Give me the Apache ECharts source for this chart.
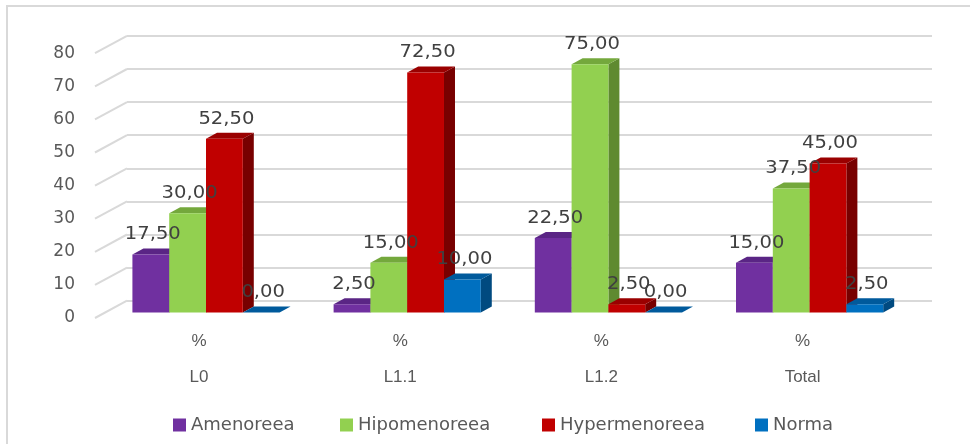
<!DOCTYPE html>
<html>
<head>
<meta charset="utf-8">
<script src="https://cdn.jsdelivr.net/npm/echarts@6/dist/echarts.min.js"></script>
<style>
  html, body { margin: 0; padding: 0; background: #ffffff; }
  #chart { width: 970px; height: 444px; }
</style>
</head>
<body>
<div id="chart"></div>
<script>
// Categories and series values (percent)
const categories = ['L0', 'L1.1', 'L1.2', 'Total'];
const seriesNames = ['Amenoreea', 'Hipomenoreea', 'Hypermenoreea', 'Norma'];
const amenoreea = [17.5, 2.5, 22.5, 15];
const hipomenoreea = [30, 15, 75, 37.5];
const hypermenoreea = [52.5, 72.5, 2.5, 45];
const norma = [0, 10, 0, 2.5];
const valueTicks = [0, 10, 20, 30, 40, 50, 60, 70, 80];

const seriesValues = [amenoreea, hipomenoreea, hypermenoreea, norma];

// face colours: front, top, side
const palette = [
  { front: '#7030A0', top: '#5A2585', side: '#4E1F74' },
  { front: '#92D050', top: '#74A83C', side: '#5F8A30' },
  { front: '#C00000', top: '#9A0000', side: '#780000' },
  { front: '#0070C0', top: '#005A9C', side: '#004A80' }
];

const CLUSTER = 0.7315;   // share of a category slot taken by the four columns
const DEPTH_X = 11;       // column depth, horizontal offset
const DEPTH_Y = 6;        // column depth, vertical offset
const WALL_DY = 17.3;     // side-wall depth, vertical offset

const fmt = v => v.toFixed(2).replace('.', ',');

function columnRenderer(sIdx) {
  const c = palette[sIdx];
  return function (params, api) {
    const cat = api.value(0);
    const v = api.value(1);
    const base = api.coord([cat, 0]);
    const topPt = api.coord([cat, v]);
    const catW = api.size([1, 0])[0];
    const bw = catW * CLUSTER / 4;
    const x0 = base[0] - catW * CLUSTER / 2 + sIdx * bw;
    const x1 = x0 + bw;
    const yb = base[1];
    const yt = topPt[1];
    const z = sIdx * 4;
    return {
      type: 'group',
      children: [
        {
          type: 'polygon',
          z2: z,
          shape: { points: [[x1, yt], [x1 + DEPTH_X, yt - DEPTH_Y], [x1 + DEPTH_X, yb - DEPTH_Y], [x1, yb]] },
          style: { fill: c.side }
        },
        {
          type: 'polygon',
          z2: z + 1,
          shape: { points: [[x0, yt], [x1, yt], [x1 + DEPTH_X, yt - DEPTH_Y], [x0 + DEPTH_X, yt - DEPTH_Y]] },
          style: { fill: c.top }
        },
        {
          type: 'rect',
          z2: z + 2,
          shape: { x: x0, y: yt, width: bw, height: yb - yt },
          style: { fill: c.front }
        },
        {
          type: 'text',
          z2: 100,
          x: (x0 + x1) / 2 + 2,
          y: yt - 19.5,
          scaleX: 1.15,
          style: {
            text: fmt(v),
            font: '17px "DejaVu Sans"',
            fill: '#404040',
            align: 'center',
            verticalAlign: 'middle'
          }
        }
      ]
    };
  };
}

const barSeries = seriesNames.map((name, i) => ({
  name: name,
  type: 'custom',
  xAxisIndex: 1,
  yAxisIndex: 1,
  itemStyle: { color: palette[i].front },
  encode: { x: 0, y: 1 },
  data: seriesValues[i].map((v, k) => [k, v]),
  renderItem: columnRenderer(i)
}));

// side-wall diagonals leading from the value labels to the back wall
const wallSeries = {
  type: 'custom',
  xAxisIndex: 2,
  yAxisIndex: 2,
  silent: true,
  z: 1,
  encode: { x: 0, y: 1 },
  data: valueTicks.map(t => [0, t]),
  renderItem: function (params, api) {
    const t = api.value(1);
    const p0 = api.coord([0, t]);
    const p1 = api.coord([1, t]);
    return {
      type: 'line',
      shape: { x1: p0[0], y1: p0[1], x2: p1[0], y2: p1[1] - WALL_DY },
      style: { stroke: '#d9d9d9', lineWidth: 2 }
    };
  }
};

const legendLefts = [168, 335, 537, 750];

const option = {
  animation: false,
  backgroundColor: '#ffffff',
  graphic: [{
    type: 'rect',
    x: 7, y: 6,
    shape: { x: 0, y: 0, width: 1000, height: 500 },
    style: { fill: 'none', stroke: '#d9d9d9', lineWidth: 2 },
    silent: true
  }],
  legend: seriesNames.map((name, i) => ({
    data: [name],
    left: legendLefts[i],
    top: 411,
    icon: 'rect',
    itemWidth: 13,
    itemHeight: 13,
    itemGap: 0,
    selectedMode: false,
    textStyle: { fontFamily: 'DejaVu Sans', fontSize: 18, color: '#595959' }
  })),
  grid: [
    // back wall
    { left: 127, top: 35.9, width: 805, height: 264.8 },
    // front plane of the columns
    { left: 105.4, top: 47.7, width: 804.8, height: 264.8 },
    // side wall / value labels
    { left: 95, top: 53.2, width: 32, height: 264.8 }
  ],
  xAxis: [
    { gridIndex: 0, type: 'value', min: 0, max: 1, show: false },
    {
      gridIndex: 1,
      type: 'category',
      data: categories,
      axisLine: { show: false },
      axisTick: { show: false },
      splitLine: { show: false },
      axisLabel: {
        margin: 10.5,
        padding: [0, 14, 0, 0],
        formatter: v => '{p|%}\n{c|' + v + '}',
        rich: {
          p: { fontFamily: 'Liberation Sans', fontSize: 17, color: '#595959', lineHeight: 36 },
          c: { fontFamily: 'Liberation Sans', fontSize: 17, color: '#595959', lineHeight: 36 }
        }
      }
    },
    { gridIndex: 2, type: 'value', min: 0, max: 1, show: false }
  ],
  yAxis: [
    {
      gridIndex: 0, type: 'value', min: 0, max: 80, interval: 10,
      axisLine: { show: false }, axisTick: { show: false }, axisLabel: { show: false },
      splitLine: { lineStyle: { color: '#d9d9d9', width: 2 } }
    },
    {
      gridIndex: 1, type: 'value', min: 0, max: 80, interval: 10,
      axisLine: { show: false }, axisTick: { show: false }, axisLabel: { show: false },
      splitLine: { show: false }
    },
    {
      gridIndex: 2, type: 'value', min: 0, max: 80, interval: 10,
      axisLine: { show: false }, axisTick: { show: false },
      splitLine: { show: false },
      axisLabel: {
        margin: 20,
        padding: [0, 0, 4, 0],
        fontFamily: 'DejaVu Sans',
        fontSize: 17,
        color: '#595959'
      }
    }
  ],
  series: [wallSeries].concat(barSeries)
};

const chart = echarts.init(document.getElementById('chart'), null, { renderer: 'canvas' });
chart.setOption(option);
</script>
</body>
</html>
